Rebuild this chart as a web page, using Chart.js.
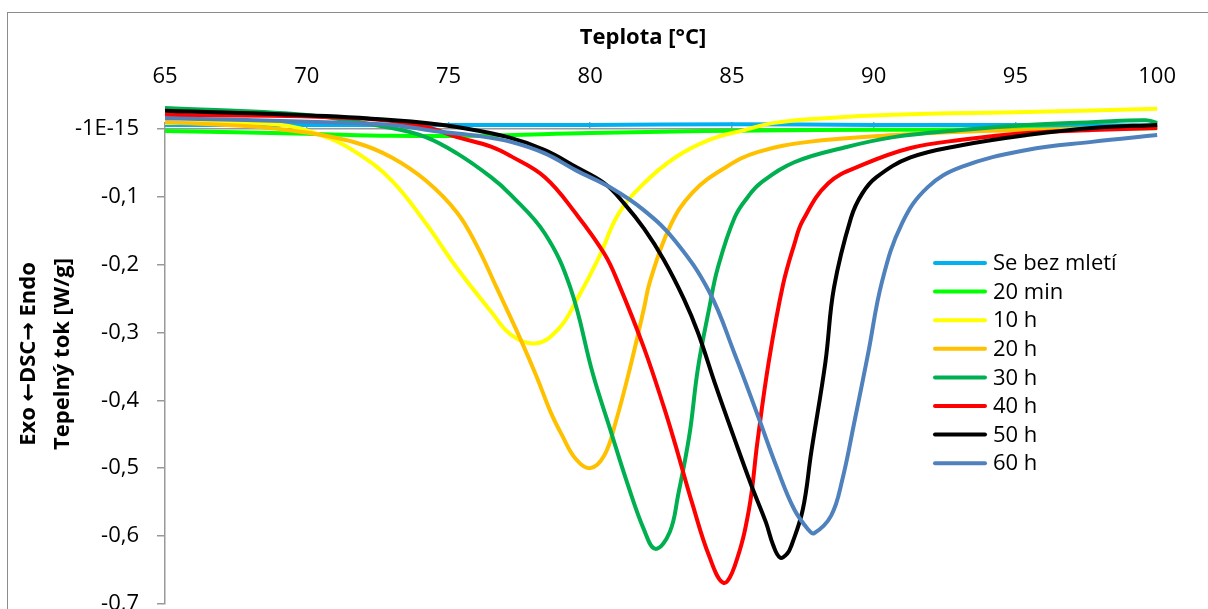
<!DOCTYPE html>
<html lang="cs">
<head>
<meta charset="utf-8">
<title>DSC – Se</title>
<script src="https://cdn.jsdelivr.net/npm/chart.js@4/dist/chart.umd.min.js"></script>
<style>
  html, body { margin: 0; padding: 0; background: #fff; overflow: hidden; }
  body { width: 1208px; height: 609px; position: relative; }
  #frame { position: absolute; left: 7px; top: 12px; width: 1260px; height: 660px; border: 1px solid #8c8c8c; }
  #wrap { position: absolute; left: 0; top: 0; width: 1208px; height: 635px; }
</style>
</head>
<body>
<div id="frame"></div>
<div id="wrap"><canvas id="dsc"></canvas></div>
<script>
// teplota [°C] a tepelný tok [W/g] pro jednotlivé doby mletí
const tSe = [65, 70, 75, 80, 85, 90, 95, 100];
const vSe = [0.006, 0.006, 0.006, 0.006, 0.007, 0.006, 0.006, 0.005];

const t20min = [65, 70, 73, 76, 80, 84, 88, 92, 96, 100];
const v20min = [-0.003, -0.007, -0.010, -0.010, -0.006, -0.003, -0.0015, -0.001, 0.000, 0.001];

const t10h = [65, 68.9, 70.7, 71.8, 73.0, 74.2, 75.3, 76.5, 77.2, 78.1, 78.9, 79.5, 80.3, 81.0, 81.9, 83.0, 84.2, 85.4, 86.5, 88.3, 90.7, 95.4, 100];
const v10h = [0.009, 0.007, -0.012, -0.036, -0.076, -0.139, -0.205, -0.269, -0.303, -0.316, -0.294, -0.254, -0.190, -0.125, -0.080, -0.042, -0.016, -0.002, 0.009, 0.016, 0.021, 0.025, 0.030];

const t20h = [65, 68.3, 70.1, 71.8, 73.0, 74.2, 75.3, 76.0, 76.7, 77.5, 78.1, 78.6, 79.0, 79.5, 80.0, 80.5, 80.9, 81.4, 81.9, 82.1, 82.8, 83.6, 84.8, 85.9, 87.7, 90.7, 93.1, 95.4, 100];
const v20h = [0.010, 0.003, -0.006, -0.021, -0.042, -0.076, -0.123, -0.172, -0.234, -0.306, -0.364, -0.417, -0.451, -0.487, -0.500, -0.481, -0.432, -0.353, -0.264, -0.226, -0.145, -0.094, -0.056, -0.034, -0.019, -0.009, -0.004, -0.0015, 0.003];

const t30h = [65, 69.9, 73.0, 74.2, 75.3, 76.5, 77.2, 78.4, 79.3, 80.1, 80.7, 81.3, 81.9, 82.3, 82.8, 83.1, 83.5, 83.8, 84.2, 84.5, 85.1, 85.6, 86.0, 87.2, 89.0, 90.7, 93.1, 95.4, 97.7, 99.6, 100];
const v30h = [0.031, 0.021, 0.0015, -0.012, -0.036, -0.071, -0.097, -0.154, -0.234, -0.362, -0.442, -0.521, -0.591, -0.619, -0.595, -0.540, -0.451, -0.353, -0.264, -0.205, -0.130, -0.098, -0.080, -0.049, -0.027, -0.012, -0.0015, 0.006, 0.010, 0.013, 0.009];

const t40h = [65, 71.8, 74.2, 75.3, 76.5, 77.2, 78.4, 79.5, 80.5, 81.0, 81.9, 82.6, 83.0, 83.6, 84.2, 84.7, 85.1, 85.6, 85.9, 86.3, 86.8, 87.2, 87.5, 88.4, 89.6, 91.3, 93.1, 95.4, 97.7, 100];
const v40h = [0.021, 0.016, 0.003, -0.012, -0.026, -0.040, -0.071, -0.125, -0.184, -0.228, -0.323, -0.410, -0.465, -0.552, -0.630, -0.669, -0.644, -0.561, -0.461, -0.343, -0.230, -0.170, -0.135, -0.080, -0.053, -0.028, -0.016, -0.006, -0.0015, 0.0015];

const t50h = [65, 70.7, 74.2, 75.3, 77.1, 78.4, 79.5, 80.5, 81.2, 81.9, 82.6, 83.3, 83.8, 84.4, 85.1, 85.7, 86.2, 86.45, 86.7, 86.95, 87.1, 87.5, 87.8, 88.3, 88.6, 89.2, 89.6, 90.1, 91.3, 93.1, 95.4, 97.7, 100];
const v50h = [0.027, 0.019, 0.009, 0.003, -0.012, -0.031, -0.056, -0.080, -0.110, -0.147, -0.193, -0.250, -0.300, -0.375, -0.458, -0.527, -0.580, -0.613, -0.632, -0.626, -0.614, -0.561, -0.476, -0.343, -0.234, -0.131, -0.095, -0.071, -0.042, -0.024, -0.009, 0.0015, 0.006];

const t60h = [65, 70.7, 73.0, 74.7, 76.0, 77.2, 78.4, 79.5, 80.7, 81.9, 83.0, 84.2, 85.1, 85.9, 86.6, 87.2, 87.7, 87.9, 88.5, 88.9, 89.3, 89.8, 90.3, 91.0, 91.9, 93.1, 95.4, 97.7, 100];
const v60h = [0.016, 0.010, 0.006, -0.004, -0.010, -0.019, -0.036, -0.061, -0.086, -0.120, -0.165, -0.240, -0.332, -0.421, -0.501, -0.561, -0.591, -0.596, -0.570, -0.516, -0.436, -0.332, -0.224, -0.139, -0.086, -0.056, -0.031, -0.019, -0.009];

const labels = ['Se bez mletí', '20 min', '10 h', '20 h', '30 h', '40 h', '50 h', '60 h'];
const colors = ['#00B0F0', '#00FF00', '#FFFF00', '#FFC000', '#00B050', '#FF0000', '#000000', '#4F81BD'];
const temps = [tSe, t20min, t10h, t20h, t30h, t40h, t50h, t60h];
const flows = [vSe, v20min, v10h, v20h, v30h, v40h, v50h, v60h];

const xTicks = [65, 70, 75, 80, 85, 90, 95, 100];
const yTicks = [-0.7, -0.6, -0.5, -0.4, -0.3, -0.2, -0.1, 0];
const yTickLabels = ['-0,7', '-0,6', '-0,5', '-0,4', '-0,3', '-0,2', '-0,1', '-1E-15'];

const xTitle = 'Teplota [°C]';
const yTitle = ['Exo \u2190DSC\u2192 Endo', 'Tepelný tok [W/g]'];

const FONT = '"Open Sans", "Noto Sans", sans-serif';
const ARROW_FONT = 'bold 22px "DejaVu Sans"';
const AXIS = '#999999';

Chart.defaults.font.family = FONT;
Chart.defaults.font.size = 22;
Chart.defaults.color = '#000';

const datasets = labels.map((label, i) => ({
  label: label,
  data: temps[i].map((t, k) => ({ x: t, y: flows[i][k] })),
  borderColor: colors[i],
  backgroundColor: colors[i],
  borderWidth: 4,
  pointRadius: 0,
  tension: 0.4,
  clip: false,
  order: labels.length - i   // pozdější série kreslit navrch
}));

// text po kouscích, šipky jiným fontem (Open Sans je má malé)
function drawMixed(ctx, text, cx, cy, font) {
  const parts = text.split(/([\u2190\u2192])/).filter(s => s.length);
  const fontOf = s => /[\u2190\u2192]/.test(s) ? ARROW_FONT : font;
  let total = 0;
  parts.forEach(s => { ctx.font = fontOf(s); total += ctx.measureText(s).width; });
  let x = cx - total / 2;
  ctx.textAlign = 'left';
  parts.forEach(s => {
    ctx.font = fontOf(s);
    ctx.fillText(s, x, cy);
    x += ctx.measureText(s).width;
  });
}

// názvy os a legenda uvnitř grafu
const extras = {
  id: 'extras',
  afterDatasetsDraw(chart) {
    const ctx = chart.ctx;
    const bold = 'bold 22px ' + FONT;
    ctx.save();
    ctx.fillStyle = '#000';
    ctx.font = bold;
    ctx.textAlign = 'center';
    ctx.textBaseline = 'middle';
    ctx.fillText(xTitle, 643, 38);

    ctx.save();
    ctx.translate(0, 354);
    ctx.rotate(-Math.PI / 2);
    drawMixed(ctx, yTitle[0], 0, 29, bold);
    drawMixed(ctx, yTitle[1], 0, 63, bold);
    ctx.restore();

    ctx.font = '22px ' + FONT;
    ctx.textAlign = 'left';
    ctx.lineCap = 'round';
    chart.data.datasets.forEach((ds, i) => {
      const y = 263 + i * 28.6;
      ctx.strokeStyle = ds.borderColor;
      ctx.lineWidth = 4;
      ctx.beginPath();
      ctx.moveTo(935, y);
      ctx.lineTo(985, y);
      ctx.stroke();
      ctx.fillText(ds.label, 993, y + 1);
    });
    ctx.restore();
  }
};

new Chart(document.getElementById('dsc'), {
  type: 'line',
  data: { datasets: datasets },
  plugins: [extras],
  options: {
    responsive: true,
    maintainAspectRatio: false,
    animation: false,
    layout: { padding: { left: 0, right: 43, top: 0, bottom: 0 } },
    plugins: { legend: { display: false }, tooltip: { enabled: false } },
    scales: {
      x: {
        type: 'linear',
        position: 'top',
        min: 65,
        max: 100,
        afterBuildTicks: s => { s.ticks = xTicks.map(v => ({ value: v })); },
        afterFit: s => { s.height = 129; },
        ticks: { padding: 32, callback: v => String(v) },
        grid: { drawOnChartArea: false, drawTicks: true, tickLength: 7, color: AXIS, lineWidth: 1.5 },
        border: { display: true, color: AXIS, width: 1.5 }
      },
      y: {
        type: 'linear',
        min: -0.7,
        max: 0,
        afterBuildTicks: s => { s.ticks = yTicks.map(v => ({ value: v })); },
        afterFit: s => { s.width = 165; },
        ticks: {
          padding: 18,
          callback: (v, i) => yTickLabels[i]
        },
        grid: { drawOnChartArea: false, drawTicks: true, tickLength: 8, color: AXIS, lineWidth: 1.5 },
        border: { display: true, color: AXIS, width: 1.5 }
      }
    }
  }
});
</script>
</body>
</html>
